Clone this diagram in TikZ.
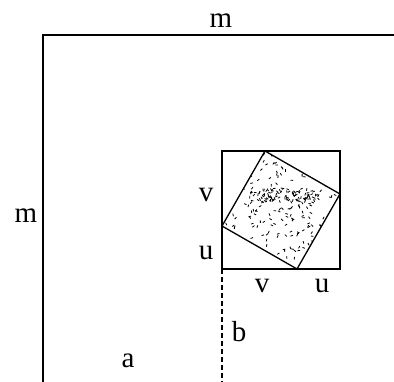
\documentclass[tikz,border=0pt]{standalone}
\usepackage{fontspec}
\setmainfont{Liberation Serif}
\begin{document}
\begin{tikzpicture}[x=1pt,y=-1pt,
  frame/.style={line width=1.3pt,line cap=rect},
  sq/.style={line width=1.3pt},
  lbl/.style={font=\fontsize{29}{29}\selectfont,inner sep=0pt}]
\useasboundingbox (0,0) rectangle (394,382);
% big frame
\coordinate (F0) at (43,35);
\coordinate (F1) at (394,35);
\coordinate (F2) at (43,382);
\draw[frame] (F1) -- (F0) -- (F2);
% outer small square
\coordinate (S1) at (222,151);
\coordinate (S2) at (340,151);
\coordinate (S3) at (340,269);
\coordinate (S4) at (222,269);
% rotated square
\coordinate (T) at (265,151);
\coordinate (R) at (340,194);
\coordinate (B) at (297,269);
\coordinate (L) at (222,226);
\begin{scope}
\clip (T) -- (R) -- (B) -- (L) -- cycle;
\pgfmathsetseed{7}
\foreach \i in {1,...,260}{
  \pgfmathsetmacro{\px}{281+60*rand}
  \pgfmathsetmacro{\py}{210+60*rand}
  \pgfmathsetmacro{\ang}{180*rnd}
  \draw[line width=0.8pt] (\px,\py) -- ++(\ang:2.6);
}
% denser band
\foreach \i in {1,...,90}{
  \pgfmathsetmacro{\px}{285+35*rand}
  \pgfmathsetmacro{\py}{195+7*rand}
  \pgfmathsetmacro{\ang}{180*rnd}
  \draw[line width=0.8pt] (\px,\py) -- ++(\ang:2.6);
}
\end{scope}
\draw[sq] (S1) -- (S2) -- (S3) -- (S4) -- cycle;
\draw[sq,line join=miter] (T) -- (R) -- (B) -- (L) -- cycle;
% dashed line
\coordinate (D) at (222,382);
\draw[line width=1.3pt,dash pattern=on 5pt off 3pt] (S4) -- (D);
% labels
\node[lbl] (mtop) at (221,21) {m};
\node[lbl] (mleft) at (26,216) {m};
\node[lbl] (lv) at (206,195) {v};
\node[lbl] (lu) at (206,253) {u};
\node[lbl] (bv) at (262,286) {v};
\node[lbl] (bu) at (322,286) {u};
\node[lbl] (lb) at (239,332) {b};
\node[lbl] (la) at (128,361) {a};
\end{tikzpicture}
\end{document}
